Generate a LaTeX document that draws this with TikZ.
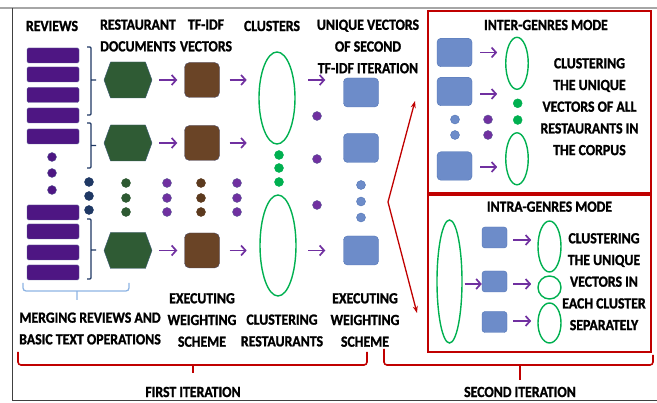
\documentclass[tikz,border=0pt]{standalone}
\usepackage{fontspec}
\newfontfamily\lblfamily{Carlito}[FakeStretch=0.89, FakeBold=1.3]
\usetikzlibrary{shapes.geometric,shapes.symbols,arrows.meta}
\definecolor{revpurple}{HTML}{4E1683}
\definecolor{revedge}{HTML}{5C5C96}
\definecolor{docgreen}{HTML}{2F5B34}
\definecolor{docedge}{HTML}{3E5C78}
\definecolor{tfbrown}{HTML}{6A4426}
\definecolor{tfedge}{HTML}{4A4A66}
\definecolor{vecblue}{HTML}{6D8CC9}
\definecolor{vecedge}{HTML}{4F73B5}
\definecolor{arrpurple}{HTML}{7030A0}
\definecolor{dotnavy}{HTML}{1F3864}
\definecolor{dotgreen}{HTML}{2E5A32}
\definecolor{dotbrown}{HTML}{5C3A1E}
\definecolor{clgreen}{HTML}{00B050}
\definecolor{iterred}{HTML}{C00000}
\definecolor{mergeblue}{HTML}{8EB4E3}
\begin{document}
\begin{tikzpicture}[
  x=1pt, y=-1pt,
  lbl/.style={font=\lblfamily\bfseries\fontsize{15.5}{21.7}\selectfont,
    align=center, inner sep=0, text=black},
  review/.style={draw=revedge, fill=revpurple, rounded corners=1.5pt,
    minimum width=52, minimum height=15, inner sep=0},
  restdoc/.style={signal, signal to=east and west, signal pointer angle=140,
    draw=docedge, fill=docgreen, minimum width=48, minimum height=36, inner sep=0},
  tfvec/.style={draw=tfedge, fill=tfbrown, rounded corners=5pt,
    minimum size=35, inner sep=0},
  uvec/.style={draw=vecedge, fill=vecblue, rounded corners=4pt,
    minimum width=35, minimum height=29, inner sep=0},
  svec/.style={uvec, rounded corners=3pt, minimum width=25, minimum height=21},
  clus/.style={ellipse, draw=clgreen, line width=1.4pt, inner sep=0},
  dot/.style={circle, draw=revedge, line width=0.4pt, minimum size=9, inner sep=0},
  arr/.style={-{Straight Barb[length=4.5pt,width=10pt]}, draw=arrpurple, line width=1.7pt},
  redarr/.style={-{Stealth[length=7pt,width=5pt]}, draw=iterred, line width=1.3pt},
  redbr/.style={draw=iterred, line width=1.6pt, rounded corners=3pt},
  navybr/.style={draw=dotnavy, line width=1.3pt, rounded corners=1pt},
  modebox/.style={draw=iterred, line width=1.6pt, minimum width=223, inner sep=0}
]
\useasboundingbox (0,0) rectangle (657,403);
\draw[gray!70, line width=1.2pt] (0,8) -- (657,8);
\draw[black!75, line width=1pt] (12,8) -- (12,401) -- (657,401);

\node[lbl] (hreviews) at (52,26) {REVIEWS};
\node[lbl] (hdocs) at (138,35.5) {RESTAURANT\\DOCUMENTS};
\node[lbl] (htfidf) at (206,35.5) {TF-IDF\\VECTORS};
\node[lbl] (hclusters) at (272,26) {CLUSTERS};
\node[lbl] (hunique) at (368,46.5) {UNIQUE VECTORS\\OF SECOND\\TF-IDF ITERATION};

\foreach \y [count=\i] in {55.5,74.5,95,115.5,136.5,212.5,231.5,252.5,272.5}
  \node[review] (rev\i) at (53,\y) {};

\node[restdoc] (doc1) at (128,80) {};
\node[restdoc] (doc2) at (128,143) {};
\node[restdoc] (doc3) at (128,250.5) {};
\node[tfvec] (tf1) at (202,80) {};
\node[tfvec] (tf2) at (202,143) {};
\node[tfvec] (tf3) at (202,250.5) {};
\node[clus, minimum width=36, minimum height=92] (clus1) at (277,98) {};
\node[clus, minimum width=36, minimum height=101] (clus2) at (278,245.5) {};
\node[uvec] (vec1) at (361,92.5) {};
\node[uvec] (vec2) at (361,148) {};
\node[uvec] (vec3) at (361,250.5) {};

\draw[arr] ([xshift=7]doc1.east) -- ([xshift=-7]tf1.west);
\draw[arr] ([xshift=7]doc2.east) -- ([xshift=-7]tf2.west);
\draw[arr] ([xshift=7]doc3.east) -- ([xshift=-7]tf3.west);
\draw[arr] ([xshift=10]tf1.east) -- ++(17,0);
\draw[arr] ([xshift=10]tf2.east) -- ++(17,0);
\draw[arr] ([xshift=10]tf3.east) -- ++(17,0);
\draw[arr] ([xshift=-35]vec1.west |- tf1.east) -- ([xshift=-18]vec1.west |- tf1.east);
\draw[arr] ([xshift=-35]vec3.west) -- ([xshift=-18]vec3.west);

\foreach \y [count=\i] in {157,173,190}
  \node[dot, fill=revpurple] (rdot\i) at (52,\y) {};
\foreach \y [count=\i] in {182,196,210}
  \node[dot, draw=dotnavy, fill=dotnavy] (ndot\i) at (89,\y) {};
\foreach \y [count=\i] in {183,198,212} {
  \node[dot, draw=dotgreen, fill=dotgreen] (gdot\i) at (126,\y) {};
  \node[dot, fill=arrpurple] (pdot\i) at (167,\y) {};
  \node[dot, draw=dotbrown, fill=dotbrown] (bdot\i) at (201,\y) {};
  \node[dot, fill=arrpurple] (qdot\i) at (237,\y) {};
}
\foreach \y [count=\i] in {155,168,182}
  \node[dot, draw=clgreen, fill=clgreen] (cdot\i) at (279,\y) {};
\foreach \y [count=\i] in {116,159,205}
  \node[dot, fill=arrpurple] (udot\i) at (317,\y) {};
\foreach \y [count=\i] in {185,201.5,217.5}
  \node[dot, draw=vecedge, fill=vecblue] (vdot\i) at (361,\y) {};

\draw[navybr] (87,47) -- (91,47) -- (91,115) -- (87,115) (91,80) -- (96,80);
\draw[navybr] (87,123) -- (91,123) -- (91,168) -- (87,168) (91,145.5) -- (96,145.5);
\draw[navybr] (87,219) -- (91,219) -- (91,279) -- (87,279) (91,250) -- (96,250);
\draw[draw=mergeblue, line width=1.3pt, rounded corners=3pt]
  (23,283) -- (23,291) -- (129,291) -- (129,283) (77,291) -- (77,300);

\node[lbl] (lmerge) at (90,328.5) {MERGING REVIEWS AND\\BASIC TEXT OPERATIONS};
\node[lbl] (lweight) at (202,320) {EXECUTING\\WEIGHTING\\SCHEME};
\node[lbl] (lclust) at (282,330.5) {CLUSTERING\\RESTAURANTS};
\node[lbl] (lweight2) at (365,320) {EXECUTING\\WEIGHTING\\SCHEME};

\draw[redbr] (18,352) -- (18,365) -- (367,365) -- (367,352) (193,365) -- (193,373);
\draw[redbr] (384,349) -- (384,365) -- (653,365) -- (653,355) (520,365) -- (520,380);
\node[lbl] (lfirst) at (193,392) {FIRST ITERATION};
\node[lbl] (lsecond) at (520,392) {SECOND ITERATION};

\coordinate (fork) at (388,202);
\coordinate (tointer) at (415,101);
\coordinate (tointra) at (417,313);
\draw[redarr] (fork) -- (tointer);
\draw[redarr] (fork) -- (tointra);

\node[modebox, minimum height=182] (inter) at (539.5,102) {};
\node[modebox, minimum height=157] (intra) at (539.5,273.5) {};

\node[lbl] (hinter) at (546,25) {INTER-GENRES MODE};
\node[uvec, minimum height=28.5] (ivec1) at (454.5,52.5) {};
\node[uvec, minimum height=28.5] (ivec2) at (454.5,91.5) {};
\node[uvec, minimum height=28.5] (ivec3) at (454.5,166) {};
\node[clus, minimum width=22.5, minimum height=52] (iclus1) at (517,63.3) {};
\node[clus, minimum width=22.5, minimum height=52] (iclus2) at (517,158.8) {};
\draw[arr] ([xshift=8]ivec1.east) -- ++(17,0);
\draw[arr] ([xshift=8,yshift=-2.5]ivec2.east) -- ++(17,0);
\draw[arr] ([xshift=8,yshift=-1]ivec3.east) -- ++(17,0);
\foreach \y [count=\i] in {119.5,135} {
  \node[dot, draw=vecedge, fill=vecblue] (ibdot\i) at (455,\y) {};
  \node[dot, fill=arrpurple] (ipdot\i) at (488,\y) {};
}
\foreach \y [count=\i] in {103.3,120}
  \node[dot, draw=clgreen, fill=clgreen] (igdot\i) at (517.7,\y) {};
\node[lbl] (tinter) at (589.5,106.7)
  {CLUSTERING\\THE UNIQUE\\VECTORS OF ALL\\RESTAURANTS IN\\THE CORPUS};

\node[lbl] (hintra) at (549.5,206.7) {INTRA-GENRES MODE};
\node[clus, minimum width=25, minimum height=123] (bigclus) at (449.5,281.5) {};
\node[svec] (svec1) at (494.5,237.5) {};
\node[svec] (svec2) at (494.5,281.5) {};
\node[svec] (svec3) at (494.5,322) {};
\draw[arr] ([xshift=2,yshift=-2.5]bigclus.east) -- ([yshift=-2.5]svec2.west);
\node[clus, minimum width=23, minimum height=51] (sclus1) at (549.5,246.5) {};
\node[clus, minimum width=23, minimum height=23] (sclus2) at (549.5,287.5) {};
\node[clus, minimum width=23, minimum height=40] (sclus3) at (549.5,323) {};
\draw[arr] ([xshift=6,yshift=-2.5]svec1.east) -- ++(18,0);
\draw[arr] ([xshift=6,yshift=-2.5]svec2.east) -- ++(18,0);
\draw[arr] ([xshift=6,yshift=1]svec3.east) -- ++(18,0);
\node[lbl] (tintra) at (604,281.7)
  {CLUSTERING\\THE UNIQUE\\VECTORS IN\\EACH CLUSTER\\SEPARATELY};
\end{tikzpicture}
\end{document}
